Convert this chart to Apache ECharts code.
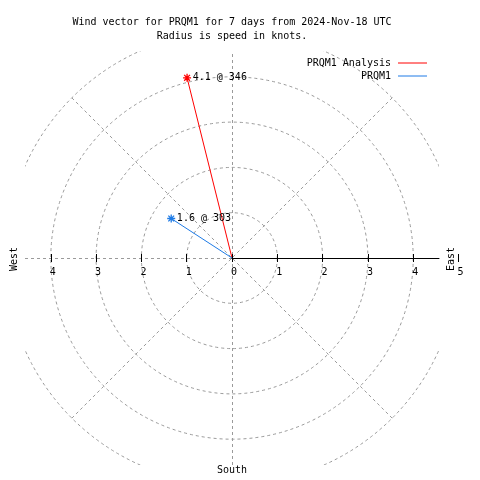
<!DOCTYPE html>
<html>
<head>
<meta charset="utf-8">
<script src="https://cdn.jsdelivr.net/npm/echarts@6/dist/echarts.min.js"></script>
<style>html,body{margin:0;padding:0;background:#fff;}#c{width:480px;height:480px;}</style>
</head>
<body>
<div id="c"></div>
<script>
// ---- data ----
const seriesNames = ['PRQM1 Analysis', 'PRQM1'];
const speeds = [4.1, 1.6];          // knots
const directions = [346, 303];      // degrees (compass)
const seriesColors = ['#ff0000', '#1e7be6'];
const tickValues = [-4, -3, -2, -1, 0, 1, 2, 3, 4, 5];
const titleLines = ['Wind vector for PRQM1 for 7 days from 2024-Nov-18 UTC', 'Radius is speed in knots.'];
const compassNames = ['East', 'West', 'South'];

// ---- layout ----
const FONT = '"DejaVu Sans Mono", monospace';
const cx = 232, cy = 258, k = 45.3;      // px per knot
const half = 207;                        // half side of square frame
const S = half / k;
const gridColor = '#9a9a9a';
const dash = [3, 3];

const chart = echarts.init(document.getElementById('c'), null, {renderer: 'canvas'});

const star = 'path://M0,-5L0,5M-5,0L5,0M-3.6,-3.6L3.6,3.6M-3.6,3.6L3.6,-3.6';

const dataSeries = seriesNames.map((name, i) => ({
  type: 'line',
  name: name,
  coordinateSystem: 'polar',
  polarIndex: 0,
  z: 5,
  lineStyle: {color: seriesColors[i], width: 1},
  itemStyle: {color: seriesColors[i], borderColor: seriesColors[i], borderWidth: 1.3},
  data: [
    {value: [0, directions[i]], symbol: 'none'},
    {value: [speeds[i], directions[i]], symbol: star, symbolSize: 8,
      label: {show: true, position: 'right', distance: 1, color: '#000',
        fontFamily: FONT, fontSize: 10,
        formatter: speeds[i] + ' @ ' + directions[i]}}
  ]
}));

const graphics = [];
// white covers clipping the frame to a square
const L = cx - half, T = cy - half, Rr = cx + half, B = cy + half;
[[0, 0, 480, T], [0, B, 480, 480 - B], [0, 0, L, 480], [Rr, 0, 480 - Rr, 480]].forEach(r => {
  graphics.push({type: 'rect', z: 3, silent: true, shape: {x: r[0], y: r[1], width: r[2], height: r[3]}, style: {fill: '#fff'}});
});
graphics.push({type: 'text', z: 10, x: 451, y: 259, rotation: Math.PI / 2,
  style: {text: compassNames[0], font: '10px ' + FONT, fill: '#000', align: 'center', verticalAlign: 'middle'}});
graphics.push({type: 'text', z: 10, x: 14, y: 259, rotation: Math.PI / 2,
  style: {text: compassNames[1], font: '10px ' + FONT, fill: '#000', align: 'center', verticalAlign: 'middle'}});
graphics.push({type: 'text', z: 10, x: 232, y: 470,
  style: {text: compassNames[2], font: '10px ' + FONT, fill: '#000', align: 'center', verticalAlign: 'middle'}});
// legend
seriesNames.forEach((n, i) => {
  const y = 63 + 13 * i;
  graphics.push({type: 'text', z: 10, x: 391, y: y,
    style: {text: n, font: '10px ' + FONT, fill: '#000', align: 'right', verticalAlign: 'middle'}});
  graphics.push({type: 'line', z: 10, shape: {x1: 398, y1: y, x2: 427, y2: y},
    style: {stroke: seriesColors[i], lineWidth: 1}});
});

const fullW = (S + 5) * k;
const option = {
  animation: false,
  backgroundColor: '#fff',
  title: {
    text: titleLines.join('\n'),
    left: cx - 5, top: 10, textAlign: 'center', z: 10,
    textStyle: {fontFamily: FONT, fontSize: 10, fontWeight: 'normal', color: '#000', lineHeight: 14}
  },
  polar: {center: [cx, cy], radius: 5 * k},
  radiusAxis: {
    polarIndex: 0, type: 'value', min: 0, max: 5, interval: 1, z: 0,
    axisLine: {show: false}, axisTick: {show: false}, axisLabel: {show: false},
    splitLine: {show: true, lineStyle: {color: gridColor, type: dash, width: 1}}
  },
  angleAxis: {
    polarIndex: 0, type: 'value', min: 45, max: 405, interval: 90, startAngle: 45, clockwise: true, z: 0,
    axisLine: {show: false}, axisTick: {show: false}, axisLabel: {show: false},
    splitLine: {show: true, lineStyle: {color: gridColor, type: dash, width: 1}}
  },
  grid: [
    {left: L, top: T, width: fullW, height: 2 * half, containLabel: false},   // frame (dashed axes)
    {left: L, top: T, width: fullW, height: half, containLabel: false},       // ticks down + labels
    {left: L, top: cy, width: fullW, height: half, containLabel: false},      // ticks up
    {left: cx, top: T, width: half, height: half, containLabel: false}        // east solid line
  ],
  xAxis: [
    {gridIndex: 0, type: 'value', min: -S, max: 5, show: false},
    {gridIndex: 1, type: 'value', min: -S, max: 5, position: 'bottom', z: 6,
      axisLine: {show: false, onZero: false},
      axisTick: {show: true, customValues: tickValues, length: 4, lineStyle: {color: '#000'}},
      axisLabel: {show: true, customValues: tickValues, margin: 9, color: '#000', fontFamily: FONT, fontSize: 10,
        padding: [0, 0, 0, 4], formatter: v => String(Math.abs(v))},
      splitLine: {show: false}},
    {gridIndex: 2, type: 'value', min: -S, max: 5, position: 'top', z: 6,
      axisLine: {show: false, onZero: false},
      axisTick: {show: true, customValues: tickValues, length: 4, lineStyle: {color: '#000'}},
      axisLabel: {show: false}, splitLine: {show: false}},
    {gridIndex: 3, type: 'value', min: 0, max: 1, position: 'bottom', z: 6,
      axisLine: {show: true, onZero: false, lineStyle: {color: '#000', width: 1}},
      axisTick: {show: false}, axisLabel: {show: false}, splitLine: {show: false}}
  ],
  yAxis: [
    {gridIndex: 0, type: 'value', min: -S, max: S, show: false},
    {gridIndex: 1, type: 'value', min: 0, max: 1, show: false},
    {gridIndex: 2, type: 'value', min: 0, max: 1, show: false},
    {gridIndex: 3, type: 'value', min: 0, max: 1, show: false}
  ],
  series: [
    {type: 'line', xAxisIndex: 0, yAxisIndex: 0, data: [], z: 1, silent: true,
      markLine: {silent: true, z: 1, symbol: 'none', animation: false, label: {show: false},
        lineStyle: {color: gridColor, type: dash, width: 1},
        data: [{xAxis: 0}, {yAxis: 0}]}}
  ].concat(dataSeries),
  graphic: graphics
};
chart.setOption(option);
</script>
</body>
</html>
